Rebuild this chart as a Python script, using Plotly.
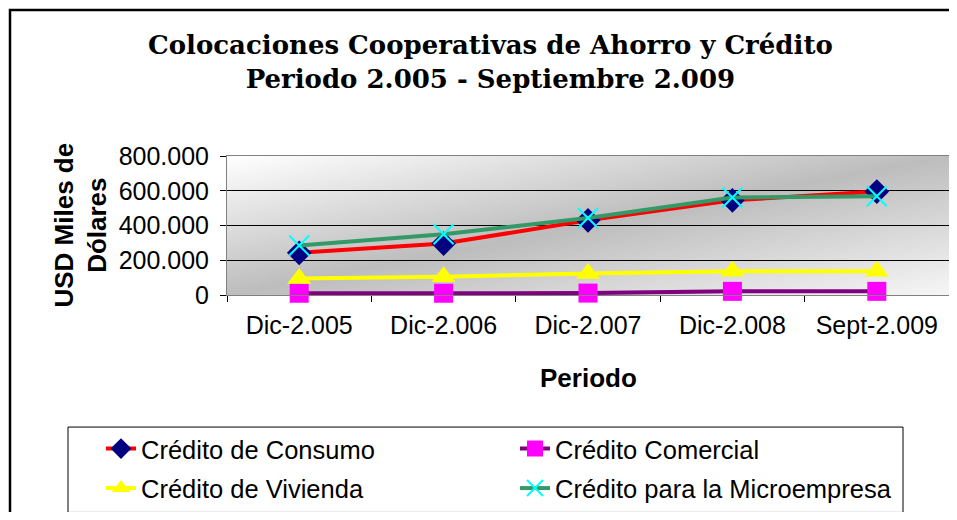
import base64
import plotly.graph_objects as go

periodos = ["Dic-2.005", "Dic-2.006", "Dic-2.007", "Dic-2.008", "Sept-2.009"]
consumo = [243000, 296000, 430000, 545000, 595000]
comercial = [10000, 10000, 11000, 21000, 21000]
vivienda = [95000, 105000, 124000, 137000, 137000]
microempresa = [285000, 350000, 443000, 561000, 568000]

y_ticks = [0, 200000, 400000, 600000, 800000]

# figure fits the window inside the page's 8px body margin
FIG_W, FIG_H, OFF = 941, 504, 8
# plot-area geometry in screen pixels
L, R, T, B = 227, 949, 156, 296
W, H = R - L, B - T


def px(x):
    return (x - L) / W


def py(y):
    return (B - y) / H


FONT = "Liberation Sans, Arial, sans-serif"

fig = go.Figure()

fig.add_trace(go.Scatter(
    x=periodos, y=consumo, name="Crédito de Consumo", mode="lines+markers",
    line=dict(color="#FF0000", width=4),
    marker=dict(symbol="diamond", size=19, color="#000080"),
    cliponaxis=False, legend="legend"))
fig.add_trace(go.Scatter(
    x=periodos, y=comercial, name="Crédito Comercial", mode="lines+markers",
    line=dict(color="#800080", width=4),
    marker=dict(symbol="square", size=19, color="#FF00FF"),
    cliponaxis=False, legend="legend"))
fig.add_trace(go.Scatter(
    x=periodos, y=vivienda, name="Crédito de Vivienda", mode="lines+markers",
    line=dict(color="#FFFF00", width=4),
    marker=dict(symbol="triangle-up", size=21, color="#FFFF00"),
    cliponaxis=False, legend="legend2"))
fig.add_trace(go.Scatter(
    x=periodos, y=microempresa, name="Crédito para la Microempresa", mode="lines+markers",
    line=dict(color="#339966", width=4),
    marker=dict(symbol="x-thin-open", size=20, color="#00FFFF", line=dict(width=2, color="#00FFFF")),
    cliponaxis=False, legend="legend2"))

svg = ('<svg xmlns="http://www.w3.org/2000/svg" width="100" height="100" preserveAspectRatio="none" viewBox="0 0 100 100">'
       '<defs><linearGradient id="g" x1="0" y1="0" x2="1" y2="1">'
       '<stop offset="0" stop-color="#ffffff"/>'
       '<stop offset="0.5" stop-color="#bdbdbd"/>'
       '<stop offset="1" stop-color="#f6f6f6"/>'
       '</linearGradient></defs>'
       '<rect x="0" y="0" width="100" height="100" fill="url(#g)"/></svg>')
src = "data:image/svg+xml;base64," + base64.b64encode(svg.encode()).decode()

fig.update_layout(
    width=FIG_W, height=FIG_H,
    margin=dict(l=L - OFF, r=FIG_W - (R - OFF), t=T - OFF, b=FIG_H - (B - OFF)),
    paper_bgcolor="white", plot_bgcolor="rgba(0,0,0,0)",
    separators=",.",
    font=dict(family=FONT, size=25, color="black"),
    showlegend=True,
    images=[dict(source=src, xref="paper", yref="paper", x=0, y=1, sizex=1, sizey=1,
                 sizing="stretch", layer="below", xanchor="left", yanchor="top")],
    xaxis=dict(
        type="category", tickson="boundaries", ticks="outside", ticklen=6, tickcolor="black",
        showgrid=False, showline=True, linecolor="#808080", linewidth=1, mirror=True,
        tickfont=dict(family=FONT, size=25), range=[-0.5, 4.5], fixedrange=True,
        ticklabelstandoff=8),
    yaxis=dict(
        range=[0, 800000], tickvals=y_ticks, tickformat=",d", ticks="outside", ticklen=6,
        tickcolor="black", showgrid=True, gridcolor="black", gridwidth=1, zeroline=False,
        showline=True, linecolor="#808080", linewidth=1, mirror=True,
        tickfont=dict(family=FONT, size=25), ticklabelstandoff=6),
    legend=dict(orientation="h", x=px(101), y=py(449), xanchor="left", yanchor="middle",
                entrywidth=369, entrywidthmode="pixels", bgcolor="rgba(0,0,0,0)",
                font=dict(family=FONT, size=25.5), traceorder="normal"),
    legend2=dict(orientation="h", x=px(101), y=py(492), xanchor="left", yanchor="middle",
                 entrywidth=369, entrywidthmode="pixels", bgcolor="rgba(0,0,0,0)",
                 font=dict(family=FONT, size=25.5), traceorder="normal"),
    shapes=[
        dict(type="rect", xref="paper", yref="paper", x0=px(68), x1=px(903), y0=py(515), y1=py(429),
             line=dict(color="black", width=1), fillcolor="rgba(0,0,0,0)", layer="above"),
        dict(type="rect", xref="paper", yref="paper", x0=px(10), x1=px(990), y0=py(560), y1=py(9),
             line=dict(color="black", width=2.5), fillcolor="rgba(0,0,0,0)", layer="above"),
    ],
    annotations=[
        dict(text="<b>Colocaciones Cooperativas de Ahorro y Crédito<br>Periodo 2.005 - Septiembre 2.009</b>",
             xref="paper", yref="paper", x=px(490), y=py(61), xanchor="center", yanchor="middle",
             showarrow=False, font=dict(family="DejaVu Serif, serif", size=26, color="black")),
        dict(text="<b>USD Miles de<br>Dólares</b>", xref="paper", yref="paper", x=px(80), y=0.5,
             xanchor="center", yanchor="middle", textangle=-90, showarrow=False,
             font=dict(family=FONT, size=26, color="black")),
        dict(text="<b>Periodo</b>", xref="paper", yref="paper", x=0.5, y=py(380),
             xanchor="center", yanchor="middle", showarrow=False,
             font=dict(family=FONT, size=26, color="black")),
    ],
)

fig.write_html("out.html")
